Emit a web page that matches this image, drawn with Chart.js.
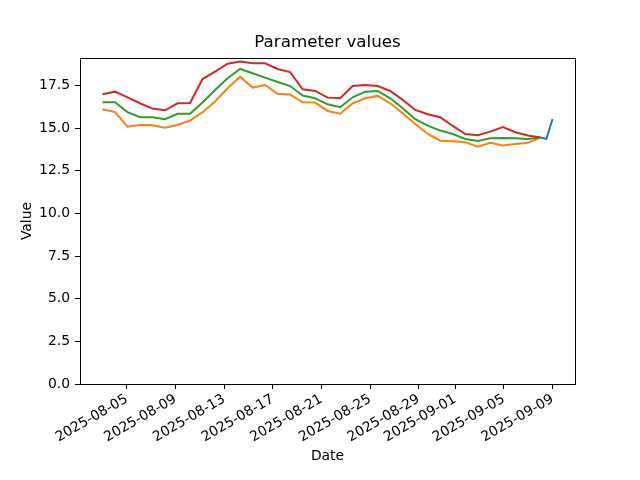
<!DOCTYPE html>
<html>
<head>
<meta charset="utf-8">
<script src="https://cdn.jsdelivr.net/npm/chart.js@4.4.1/dist/chart.umd.min.js"></script>
<style>
  html, body { margin: 0; padding: 0; background: #fff; }
  canvas { display: block; }
</style>
</head>
<body>
<canvas id="chart" width="640" height="480"></canvas>
<script>
/* =========================================================
   DATA
========================================================= */
const seriesStart = "2025-08-03";
const seriesEnd = "2025-09-08";

const redValues = [16.98, 17.13, 16.80, 16.45, 16.14, 16.04, 16.45, 16.47, 17.87, 18.30,
  18.77, 18.89, 18.79, 18.79, 18.46, 18.28, 17.27, 17.17, 16.78, 16.74, 17.46, 17.52,
  17.46, 17.17, 16.65, 16.06, 15.81, 15.63, 15.12, 14.65, 14.58, 14.79, 15.05, 14.75,
  14.56, 14.44];

const greenValues = [16.51, 16.51, 15.93, 15.63, 15.63, 15.52, 15.83, 15.83, 16.50, 17.23,
  17.92, 18.46, 18.21, 17.95, 17.70, 17.46, 16.90, 16.74, 16.39, 16.22, 16.80, 17.13,
  17.17, 16.74, 16.16, 15.52, 15.14, 14.85, 14.65, 14.36, 14.24, 14.40, 14.42, 14.40,
  14.36, 14.44];

const orangeValues = [16.10, 15.93, 15.08, 15.18, 15.16, 15.01, 15.18, 15.43, 15.93, 16.55,
  17.33, 18.01, 17.37, 17.52, 17.01, 16.96, 16.51, 16.49, 16.00, 15.84, 16.45, 16.74,
  16.88, 16.45, 15.87, 15.24, 14.65, 14.26, 14.23, 14.17, 13.91, 14.13, 13.97, 14.07,
  14.13, 14.44];

const blueDates = ["2025-09-08T00:00:00Z", "2025-09-08T12:00:00Z", "2025-09-09T00:00:00Z"];
const blueValues = [14.44, 14.36, 15.53];

const xTickLabels = ["2025-08-05", "2025-08-09", "2025-08-13", "2025-08-17", "2025-08-21",
  "2025-08-25", "2025-08-29", "2025-09-01", "2025-09-05", "2025-09-09"];
const yTicks = [0, 2.5, 5, 7.5, 10, 12.5, 15, 17.5];

/* =========================================================
   HELPERS
========================================================= */
const DAY = 86400000;

// even spacing of the samples between first and last date
function spreadDates(values) {
  const t0 = Date.parse(seriesStart);
  const t1 = Date.parse(seriesEnd);
  const step = (t1 - t0) / (values.length - 1);
  return values.map((v, i) => ({ x: t0 + i * step, y: v }));
}

const xMin = Date.parse("2025-08-03") - 1.85 * DAY;
const xMax = Date.parse("2025-09-09") + 1.85 * DAY;

const frameBox = {
  id: "frameBox",
  afterDraw(chart) {
    const { ctx, chartArea: a } = chart;
    ctx.save();
    ctx.strokeStyle = "#000";
    ctx.lineWidth = 1;
    ctx.strokeRect(Math.round(a.left) + 0.5, Math.round(a.top) + 0.5,
      Math.round(a.right - a.left), Math.round(a.bottom - a.top));
    ctx.restore();
  }
};

/* =========================================================
   CHART
========================================================= */
Chart.defaults.font.family = "'DejaVu Sans', sans-serif";
Chart.defaults.color = "#000";

new Chart(document.getElementById("chart"), {
  type: "line",
  data: {
    datasets: [
      { data: spreadDates(redValues), borderColor: "#d62728", order: 0 },
      { data: spreadDates(greenValues), borderColor: "#2ca02c", order: 1 },
      { data: spreadDates(orangeValues), borderColor: "#ff7f0e", order: 2 },
      { data: blueDates.map((d, i) => ({ x: Date.parse(d), y: blueValues[i] })),
        borderColor: "#1f77b4", order: 3 }
    ]
  },
  options: {
    responsive: false,
    animation: false,
    devicePixelRatio: 1,
    layout: { padding: { left: 15, right: 0, top: 0, bottom: 0 } },
    elements: {
      point: { radius: 0 },
      line: { borderWidth: 2, tension: 0, fill: false }
    },
    plugins: {
      legend: { display: false },
      tooltip: { enabled: false },
      title: {
        display: true,
        text: "Parameter values",
        font: { size: 16.7, weight: "normal" },
        padding: { top: 33, bottom: 5 }
      }
    },
    scales: {
      x: {
        type: "linear",
        min: xMin,
        max: xMax,
        afterBuildTicks: s => { s.ticks = xTickLabels.map(d => ({ value: Date.parse(d) })); },
        afterFit: s => { s.height = 96; },
        ticks: {
          autoSkip: false,
          maxRotation: 30,
          minRotation: 30,
          padding: 2,
          font: { size: 13.9 },
          callback: (v, i) => xTickLabels[i]
        },
        grid: { drawOnChartArea: false, drawTicks: true, tickLength: 5, color: "#000" },
        border: { display: true, color: "#000" },
        title: { display: true, text: "Date", font: { size: 13.9 }, padding: { top: 0, bottom: 15 } }
      },
      y: {
        min: 0,
        max: 19.1,
        afterBuildTicks: s => { s.ticks = yTicks.map(v => ({ value: v })); },
        afterFit: s => { s.width = 65; },
        ticks: {
          padding: 5,
          font: { size: 13.9 },
          callback: v => v.toFixed(1)
        },
        grid: { drawOnChartArea: false, drawTicks: true, tickLength: 5, color: "#000" },
        border: { display: true, color: "#000" },
        title: { display: true, text: "Value", font: { size: 13.9 }, padding: { top: 4, bottom: 0 } }
      },
      // empty right margin so the title centres over the plot
      yRight: {
        position: "right",
        display: true,
        afterFit: s => { s.width = 65; },
        ticks: { display: false },
        grid: { display: false },
        border: { display: false }
      }
    }
  },
  plugins: [frameBox]
});
</script>
</body>
</html>
